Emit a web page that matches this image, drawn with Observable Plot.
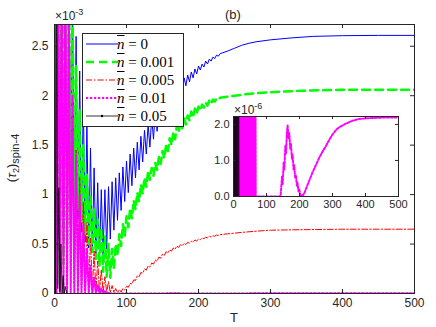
<!DOCTYPE html>
<html><head><meta charset="utf-8">
<script src="https://cdn.jsdelivr.net/npm/d3@7"></script>
<script src="https://cdn.jsdelivr.net/npm/@observablehq/plot@0.6"></script>
<style>
body{margin:0;background:#fff;font-family:"Liberation Sans",Arial,sans-serif;}
#wrap{position:relative;width:436px;height:327px;overflow:hidden;background:#fff;}
.abs{position:absolute;white-space:nowrap;color:#262626;line-height:1;}
</style></head><body><div id="wrap"></div>
<script>
// ---------- data (main panel values in units of 1e-3, inset in 1e-6) ----------
const nbarLabels = ["0", "0.001", "0.005", "0.01", "0.05"];
const xTicks = [0, 100, 200, 300, 400, 500];
const yTicks = [0, 0.5, 1, 1.5, 2, 2.5];
const insetXTicks = [0, 100, 200, 300, 400, 500];
const insetYTicks = [0, 1, 2];

const tOsc = [0,2.5,5,7.5,10,12.5,15,17.5,20,22.5,25,27.5,30,32.5,35,37.5,40,42.5,45,47.5,50,52.5,55,57.5,60,62.5,65,67.5,70,72.5,75,77.5,80,82.5,85,87.5,90,92.5,95,97.5,100,102.5,105,107.5,110,112.5,115,117.5,120,122.5,125,127.5,130,132.5,135,137.5,140,142.5,145,147.5,150,152.5,155,157.5,160,162.5,165,167.5,170,172.5,175,177.5,180,182.5,185,187.5,190,192.5,195,197.5,200,202.5,205,207.5,210,212.5,215,217.5,220,222.5,225,227.5,230];

const blueOsc = [3.5,0,3.5,0.2,3.5,0.45,3.5,0.7,3.5,0.85,3.0,0.85,2.6,0.75,2.25,0.62,2.0,0.52,1.72,0.46,1.47,0.42,1.27,0.4,1.12,0.37,1.05,0.39,1.05,0.45,1.08,0.55,1.13,0.64,1.17,0.74,1.22,0.84,1.28,0.93,1.34,1.02,1.41,1.09,1.47,1.17,1.53,1.25,1.59,1.33,1.65,1.41,1.71,1.48,1.78,1.56,1.85,1.64,1.91,1.71,1.96,1.78,2.0,1.84,2.04,1.9,2.08,1.96,2.11,2.01,2.15,2.06,2.18,2.1,2.21,2.14,2.24,2.18,2.27,2.22,2.3,2.26,2.32,2.29,2.35,2.32,2.37,2.35,2.39,2.375,2.41,2.4,2.425];
const blueTailT = [240,250,260,270,280,300,330,360,400,450,500];
const blueTailV = [2.45,2.48,2.51,2.53,2.545,2.565,2.585,2.6,2.607,2.61,2.61];

const greenOsc = [3.5,0,3.5,0.1,3.5,0.3,3.5,0.5,3.5,0.7,2.9,0.82,2.3,0.85,1.85,0.72,1.5,0.6,1.2,0.5,0.98,0.42,0.85,0.35,0.75,0.28,0.66,0.22,0.58,0.17,0.5,0.16,0.45,0.25,0.5,0.38,0.6,0.48,0.7,0.58,0.78,0.67,0.86,0.76,0.94,0.85,1.02,0.93,1.1,1.01,1.17,1.08,1.24,1.15,1.27,1.19,1.32,1.25,1.38,1.31,1.44,1.37,1.5,1.44,1.57,1.5,1.63,1.56,1.7,1.63,1.74,1.67,1.77,1.71,1.8,1.75,1.84,1.78,1.87,1.82,1.89,1.85,1.91,1.88,1.93,1.9,1.95,1.92,1.96,1.94,1.97,1.96,1.98];
const greenTailT = [240,250,260,280,300,340,400,450,500];
const greenTailV = [1.99,2.0,2.01,2.025,2.035,2.05,2.06,2.06,2.06];

const redOsc = [3.5,0,3.5,0.02,3.5,0.05,3.2,0.08,2.4,0.1,1.85,0.09,1.45,0.08,1.18,0.06,0.92,0.05,0.72,0.04,0.56,0.03,0.43,0.02,0.33,0.015,0.24,0.01,0.17,0.01,0.12,0.01,0.08,0.01,0.05,0.01,0.04,0.015,0.05,0.035,0.073,0.062,0.103,0.095,0.138,0.132,0.178,0.17,0.213,0.205,0.248,0.237,0.278,0.267,0.308,0.297,0.338,0.327,0.368,0.357,0.398,0.385,0.423,0.407,0.442,0.428,0.46,0.448,0.48,0.466,0.494,0.482,0.508,0.495,0.518,0.508,0.528,0.52,0.541,0.532,0.55,0.544,0.56,0.554,0.569,0.564,0.578,0.572,0.583,0.58,0.59,0.587,0.595];
const redTailT = [240,250,260,280,300,340,400,450,500];
const redTailV = [0.603,0.61,0.618,0.63,0.64,0.645,0.65,0.65,0.65];

const magentaOsc = [3.5,0,3.5,0,3.5,0,3.5,0,3.0,0,2.0,0,1.4,0,1.0,0,0.7,0,0.45,0,0.28,0,0.16,0,0.09,0,0.05,0,0.025,0,0.01,0,0];

const blackT = [0,1.5,3,4.5,6,7.5,9,10.5,12,13.5,15,17,20,60,100,200,300,400,500];
const blackV = [3.5,0,3.5,0.05,1.07,0.02,0.5,0,0.18,0,0.07,0,0,0,0,0,0,0,0];

// inset (n = 0.01 and n = 0.05, units 1e-6)
const insetMagT = [0,2.5,5,7.5,10,12.5,15,17.5,20,22.5,25,27.5,30,32.5,35,37.5,40,42.5,45,47.5,50,52.5,55,57.5,60,62.5,65,67.5,100,140,143,147,149,152,154,157,159,162,164,167,169,172,174,177,179,182,184,187,189,192,194,197,199,203,207,210,215,220,230,240,250,260,270,280,290,300,310,320,330,340,360,380,400,450,500];
const insetMagV = [10,0,10,0,10,0,10,0,10,0,10,0,10,0,10,0,10,0,10,0,10,0,10,0,10,0,10,0,0,0,0.05,0.55,0.35,0.95,0.75,1.4,1.2,1.8,1.97,1.62,1.76,1.33,1.47,1.05,1.17,0.75,0.87,0.5,0.6,0.3,0.38,0.14,0.2,0.04,0,0.03,0.1,0.22,0.45,0.68,0.88,1.08,1.25,1.4,1.57,1.72,1.84,1.92,1.97,2.02,2.1,2.15,2.17,2.19,2.19];
const insetBlackT = [0,1.5,3,4.5,6,7.5,9,10.5,12,13.5,15,16.5,18,20,500];
const insetBlackV = [10,0,10,0,10,0,10,0,10,0,10,0,0,0,0];

// ---------- assemble ----------
const zip = (T, V) => T.map((t, i) => ({T: t, v: V[i]}));
const blueData = zip(tOsc, blueOsc).concat(zip(blueTailT, blueTailV));
const greenData = zip(tOsc, greenOsc).concat(zip(greenTailT, greenTailV));
const redData = zip(tOsc, redOsc).concat(zip(redTailT, redTailV));
const magData = zip(tOsc.slice(0, magentaOsc.length), magentaOsc)
  .concat(zip(insetMagT, insetMagV).filter(d => d.T > 80).map(d => ({T: d.T, v: d.v / 1000})));
const blackData = zip(blackT, blackV);
const seriesData = [blueData, greenData, redData, magData, blackData];

const styles = [
  {stroke: "#0000ff", strokeWidth: 1},
  {stroke: "#00ff00", strokeWidth: 2.5, strokeDasharray: "8,5"},
  {stroke: "#ff0000", strokeWidth: 1, strokeDasharray: "6,2,1.5,2"},
  {stroke: "#ff00ff", strokeWidth: 2, strokeDasharray: "2.2,1.8"},
  {stroke: "#000000", strokeWidth: 0.8}
];
const axisColor = "#262626";

const W = 436, H = 327, mL = 54, mR = 22, mT = 24, mB = 34;
const innerW = W - mL - mR, innerH = H - mT - mB;

const main = Plot.plot({
  width: W, height: H,
  marginLeft: mL, marginRight: mR, marginTop: mT, marginBottom: mB,
  style: {fontFamily: "'Liberation Sans', Arial, sans-serif", fontSize: "12px", color: axisColor, background: "white", overflow: "visible"},
  x: {domain: [0, 500], ticks: xTicks, tickSize: 0, tickPadding: 5, label: null},
  y: {domain: [0, 2.72], ticks: yTicks, tickSize: 0, tickPadding: 6, label: null, tickFormat: d => String(d)},
  marks: [
    ...seriesData.map((d, i) => Plot.line(d, {x: "T", y: "v", curve: "linear", clip: true, ...styles[i]})),
    Plot.frame({stroke: axisColor, strokeWidth: 1}),
    Plot.tickX(xTicks, {x: d => d, insetTop: innerH - 4, stroke: axisColor}),
    Plot.tickX(xTicks, {x: d => d, insetBottom: innerH - 4, stroke: axisColor}),
    Plot.tickY(yTicks, {y: d => d, insetRight: innerW - 4, stroke: axisColor}),
    Plot.tickY(yTicks, {y: d => d, insetLeft: innerW - 4, stroke: axisColor})
  ]
});

const wrap = document.getElementById("wrap");
main.style.position = "absolute"; main.style.left = "0px"; main.style.top = "0px";
wrap.appendChild(main);

// inset
const iW = 193, iH = 108, imL = 20, imR = 8, imT = 8, imB = 20;
const iInnerW = iW - imL - imR, iInnerH = iH - imT - imB;
const inset = Plot.plot({
  width: iW, height: iH,
  marginLeft: imL, marginRight: imR, marginTop: imT, marginBottom: imB,
  style: {fontFamily: "'Liberation Sans', Arial, sans-serif", fontSize: "11px", color: axisColor, background: "transparent", overflow: "visible"},
  x: {domain: [0, 500], ticks: insetXTicks, tickSize: 0, tickPadding: 4, label: null},
  y: {domain: [0, 2.22], ticks: insetYTicks, tickSize: 0, tickPadding: 4, label: null},
  marks: [
    Plot.frame({fill: "white", stroke: "none"}),
    Plot.line(zip(insetMagT, insetMagV), {x: "T", y: "v", clip: true, ...styles[3]}),
    Plot.line(zip(insetBlackT, insetBlackV), {x: "T", y: "v", clip: true, ...styles[4]}),
    Plot.frame({stroke: axisColor, strokeWidth: 1}),
    Plot.tickX(insetXTicks, {x: d => d, insetTop: iInnerH - 3, stroke: axisColor}),
    Plot.tickX(insetXTicks, {x: d => d, insetBottom: iInnerH - 3, stroke: axisColor}),
    Plot.tickY(insetYTicks, {y: d => d, insetRight: iInnerW - 3, stroke: axisColor}),
    Plot.tickY(insetYTicks, {y: d => d, insetLeft: iInnerW - 3, stroke: axisColor})
  ]
});
inset.style.position = "absolute"; inset.style.left = (233 - imL) + "px"; inset.style.top = (116 - imT) + "px";
wrap.appendChild(inset);

function addText(html, css) {
  const d = document.createElement("div");
  d.className = "abs";
  d.innerHTML = html;
  d.style.cssText += css;
  wrap.appendChild(d);
  return d;
}
addText("(b)", "left:225px;top:8px;font-size:13px;");
addText("×10<sup style='font-size:9px;vertical-align:5px'>-3</sup>", "left:55px;top:8px;font-size:12px;");
addText("×10<sup style='font-size:9px;vertical-align:5px'>-6</sup>", "left:234px;top:102px;font-size:12px;");
addText("T", "left:230px;top:311px;font-size:13px;");
addText("(<i>τ</i><sub style='font-size:9px'>2</sub>)<sub style='font-size:11px'>spin-4</sub>",
  "left:13px;top:158px;font-size:13px;transform:translate(-50%,-50%) rotate(-90deg);");

// legend
const leg = document.createElement("div");
leg.style.cssText = "position:absolute;left:82px;top:33px;width:102px;height:94px;border:1px solid " + axisColor + ";background:#fff;box-sizing:border-box;";
nbarLabels.forEach((lab, i) => {
  const row = document.createElement("div");
  row.style.cssText = `position:absolute;left:0;top:${1 + 18 * i}px;height:18px;width:100px;`;
  const s = styles[i];
  row.innerHTML = `<svg width="34" height="18" style="position:absolute;left:2px;top:0"><line x1="1" x2="33" y1="9" y2="9" stroke="${s.stroke}" stroke-width="${s.strokeWidth}" ${s.strokeDasharray ? `stroke-dasharray="${s.strokeDasharray}"` : ""}/>${i === 4 ? '<circle cx="17" cy="9" r="1.2" fill="#000"/>' : ""}</svg>` +
    `<span style="position:absolute;left:34px;top:1px;font-family:'Liberation Serif','Times New Roman',serif;font-size:15px;color:#000;white-space:nowrap;"><span style="font-style:italic;text-decoration:overline;text-decoration-thickness:1px;">n</span> = ${lab}</span>`;
  leg.appendChild(row);
});
wrap.appendChild(leg);
</script>
</body></html>
